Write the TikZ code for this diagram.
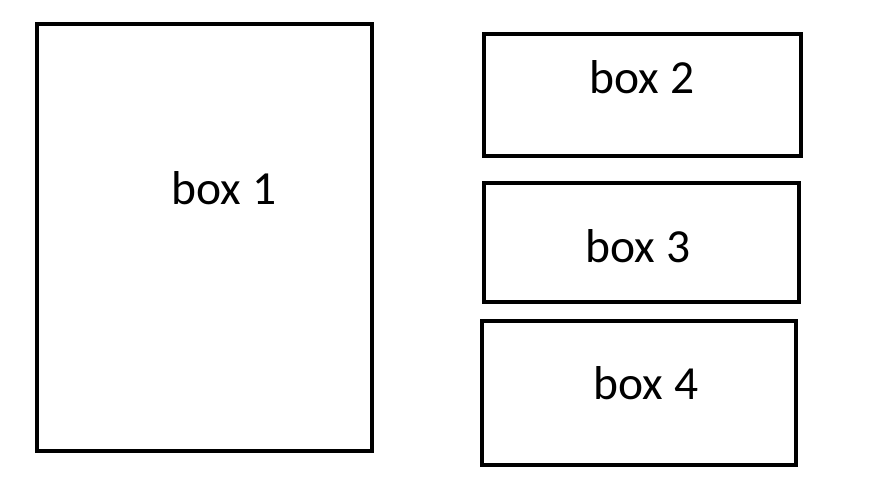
\documentclass[tikz,border=0pt]{standalone}
\usepackage{fontspec}
\setmainfont{Carlito}
\begin{document}
\begin{tikzpicture}[x=1pt,y=-1pt,
  boxstyle/.style={draw=black,line width=4pt,fill=white},
  lbl/.style={font=\fontsize{47.5}{52}\selectfont,inner sep=0pt}]
\useasboundingbox[fill=white] (0,0) rectangle (887,493);
\draw[boxstyle] (37,24) rectangle (372,451);
\draw[boxstyle] (484,34) rectangle (801,156);
\draw[boxstyle] (484,183) rectangle (799,302);
\draw[boxstyle] (482,321) rectangle (796,465);
\node[lbl] (b1) at (224,188) {box 1};
\node[lbl] (b2) at (642,77) {box 2};
\node[lbl] (b3) at (638,246) {box 3};
\node[lbl] (b4) at (646,383) {box 4};
\end{tikzpicture}
\end{document}
